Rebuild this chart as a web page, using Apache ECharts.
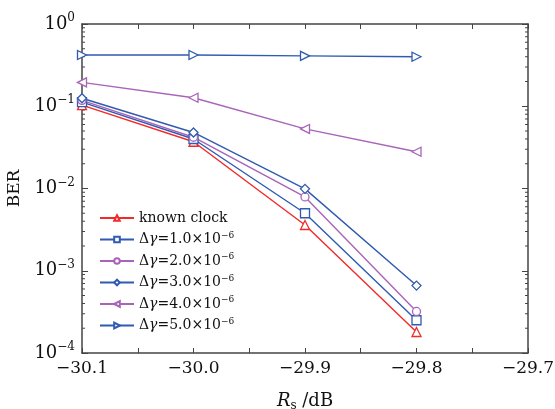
<!DOCTYPE html>
<html><head><meta charset="utf-8">
<script src="https://cdn.jsdelivr.net/npm/echarts@6/dist/echarts.min.js"></script>
<style>html,body{margin:0;padding:0;background:#fff}#c{width:555px;height:409px}</style>
</head><body><div id="c"></div>
<script>
const xValues = [-30.1, -30.0, -29.9, -29.8];
const knownClock = [0.103, 0.037, 0.0036, 0.00018];
const dg1 = [0.112, 0.040, 0.0050, 0.00025];
const dg2 = [0.118, 0.042, 0.0079, 0.00032];
const dg3 = [0.125, 0.048, 0.0099, 0.00066];
const dg4 = [0.195, 0.127, 0.053, 0.028];
const dg5 = [0.42, 0.42, 0.41, 0.40];
const seriesNames = ['known clock', 'dg1', 'dg2', 'dg3', 'dg4', 'dg5'];
const legendLabels = {
  'known clock': '{n|known clock}',
  'dg1': '{n|Δ}{i|γ}{n|=1.0×10}{s|−6}',
  'dg2': '{n|Δ}{i|γ}{n|=2.0×10}{s|−6}',
  'dg3': '{n|Δ}{i|γ}{n|=3.0×10}{s|−6}',
  'dg4': '{n|Δ}{i|γ}{n|=4.0×10}{s|−6}',
  'dg5': '{n|Δ}{i|γ}{n|=5.0×10}{s|−6}'
};
const RED = '#f22a2a', BLUE = '#2f5bb0', PURPLE = '#a864b8';
const FONT = 'DejaVu Serif';

const chart = echarts.init(document.getElementById('c'));
function mk(name, data, color, symbol, rot) {
  return {
    name: name, type: 'line',
    data: xValues.map((x, i) => [x, data[i]]),
    symbol: symbol, symbolSize: symbol === 'circle' ? 8 : 9, symbolRotate: rot || 0,
    showAllSymbol: true,
    lineStyle: { color: color, width: 1.4 },
    itemStyle: { color: '#fff', borderColor: color, borderWidth: 1.3 },
    emphasis: { disabled: true },
    z: 3
  };
}
const axisLineStyle = { color: '#444', width: 1.5 };
const option = {
  animation: false,
  grid: { left: 82, top: 24, right: 27, bottom: 56, containLabel: false, outerBoundsMode: 'none' },
  legend: {
    orient: 'vertical', left: 94, top: 206,
    itemWidth: 34, itemHeight: 7, itemGap: 6,
    data: seriesNames,
    formatter: n => legendLabels[n],
    textStyle: {
      fontFamily: FONT, color: '#111',
      rich: {
        n: { fontFamily: FONT, fontSize: 14, color: '#111', lineHeight: 17 },
        i: { fontFamily: FONT, fontSize: 14, fontStyle: 'italic', color: '#111', lineHeight: 17 },
        s: { fontFamily: FONT, fontSize: 9, color: '#111', verticalAlign: 'top', lineHeight: 17, padding: [0, 0, 0, 0] }
      }
    }
  },
  xAxis: [{
    type: 'value', min: -30.1, max: -29.7, interval: 0.1, position: 'bottom',
    axisLine: { show: true, onZero: false, lineStyle: axisLineStyle },
    axisTick: { show: true, inside: true, length: 5, lineStyle: { color: '#444', width: 1 } },
    minorTick: { show: true, splitNumber: 2, length: 5, lineStyle: { color: '#444', width: 1 } },
    splitLine: { show: false },
    axisLabel: { fontFamily: FONT, fontSize: 17, color: '#111', margin: 7,
      formatter: v => v.toFixed(1).replace('-', '−') },
    name: '{i|R}{sub|s}{n| /dB}', nameLocation: 'middle', nameGap: 37,
    nameTextStyle: { rich: {
      i: { fontFamily: FONT, fontStyle: 'italic', fontSize: 18, color: '#111' },
      sub: { fontFamily: FONT, fontSize: 12, color: '#111', verticalAlign: 'bottom', padding: [10, 0, 0, 0] },
      n: { fontFamily: FONT, fontSize: 18, color: '#111' }
    } }
  }, {
    type: 'value', min: -30.1, max: -29.7, interval: 0.1, position: 'top',
    axisLine: { show: true, onZero: false, lineStyle: axisLineStyle },
    axisTick: { show: true, inside: true, length: 5, lineStyle: { color: '#444', width: 1 } },
    minorTick: { show: true, splitNumber: 2, length: 5, lineStyle: { color: '#444', width: 1 } },
    splitLine: { show: false }, axisLabel: { show: false }
  }],
  yAxis: [{
    type: 'log', logBase: 10, min: 1e-4, max: 1, position: 'left',
    axisLine: { show: true, onZero: false, lineStyle: axisLineStyle },
    axisTick: { show: true, inside: true, length: 6, lineStyle: { color: '#444', width: 1 } },
    splitLine: { show: false },
    axisLabel: {
      margin: 7,
      formatter: v => '{b|10}{s|' + String(Math.round(Math.log10(v))).replace('-', '−') + '}',
      rich: {
        b: { fontFamily: FONT, fontSize: 18, color: '#111' },
        s: { fontFamily: FONT, fontSize: 12, color: '#111', verticalAlign: 'top', padding: [0, 0, 12, 0] }
      }
    },
    name: 'BER', nameLocation: 'middle', nameGap: 52,
    nameTextStyle: { fontFamily: FONT, fontSize: 17, color: '#111' }
  }, {
    type: 'log', logBase: 10, min: 1e-4, max: 1, position: 'right',
    axisLine: { show: true, onZero: false, lineStyle: axisLineStyle },
    axisTick: { show: true, inside: true, length: 6, lineStyle: { color: '#444', width: 1 } },
    splitLine: { show: false }, axisLabel: { show: false }
  }],
  series: [
    mk('known clock', knownClock, RED, 'triangle'),
    mk('dg1', dg1, BLUE, 'rect'),
    mk('dg2', dg2, PURPLE, 'circle'),
    mk('dg3', dg3, BLUE, 'diamond'),
    mk('dg4', dg4, PURPLE, 'triangle', 90),
    mk('dg5', dg5, BLUE, 'triangle', -90)
  ]
};
chart.setOption(option);

// log minor ticks (2..9 within each decade) on left and right axes
const xl = chart.convertToPixel({ xAxisIndex: 0 }, -30.1);
const xr = chart.convertToPixel({ xAxisIndex: 0 }, -29.7);
const g = [];
for (let e = -4; e < 0; e++) {
  for (let m = 2; m <= 9; m++) {
    const y = chart.convertToPixel({ yAxisIndex: 0 }, m * Math.pow(10, e));
    g.push({ type: 'line', shape: { x1: xl, y1: y, x2: xl + 3, y2: y }, style: { stroke: '#444', lineWidth: 1 }, silent: true });
    g.push({ type: 'line', shape: { x1: xr, y1: y, x2: xr - 3, y2: y }, style: { stroke: '#444', lineWidth: 1 }, silent: true });
  }
}
chart.setOption({ graphic: g });
</script></body></html>
